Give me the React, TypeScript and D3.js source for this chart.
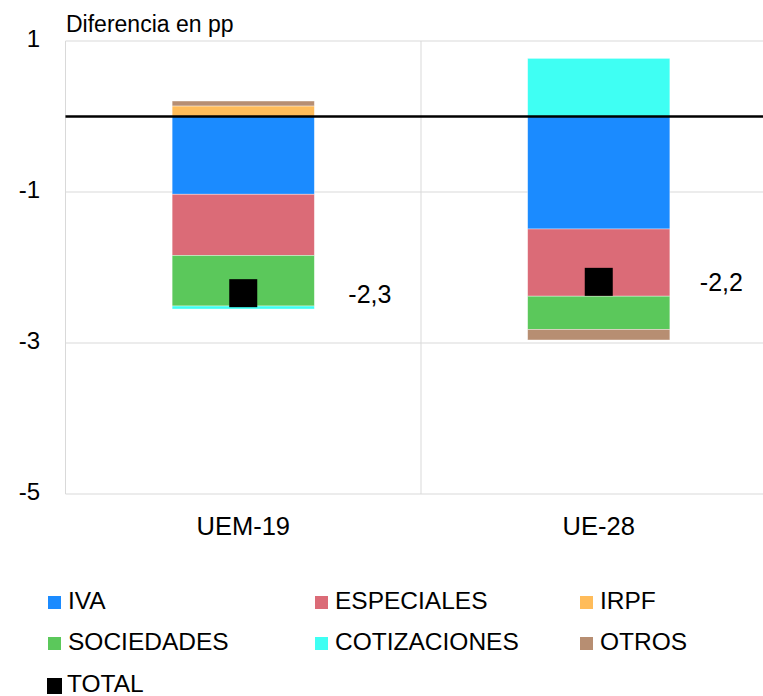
import React from "react";
import * as d3 from "d3";

const categories = ["UEM-19", "UE-28"];
const seriesNames = ["IVA", "ESPECIALES", "IRPF", "SOCIEDADES", "COTIZACIONES", "OTROS"];
const ivaValues = [-1.03, -1.49];
const especialesValues = [-0.81, -0.89];
const irpfValues = [0.14, 0];
const sociedadesValues = [-0.67, -0.44];
const cotizacionesValues = [-0.04, 0.77];
const otrosValues = [0.065, -0.14];
const totalValues = [-2.34, -2.19];
const totalLabels = ["-2,3", "-2,2"];
const yTicks = [1, -1, -3, -5];
const colors = ["#1b8bff", "#db6b77", "#ffbc5a", "#5bc85b", "#3ffff3", "#b78e72"];

const W = 763;
const H = 696;
const left = 65.5;
const right = 776.5;
const top = 41;
const bottom = 494;
const FONT = "'Liberation Sans', Arial, Helvetica, sans-serif";

export default function App() {
  const rows = categories.map((c, i) => ({
    cat: c,
    IVA: ivaValues[i],
    ESPECIALES: especialesValues[i],
    IRPF: irpfValues[i],
    SOCIEDADES: sociedadesValues[i],
    COTIZACIONES: cotizacionesValues[i],
    OTROS: otrosValues[i],
  }));
  const stacked = d3
    .stack<any>()
    .keys(seriesNames)
    .offset(d3.stackOffsetDiverging)(rows);

  const x = d3.scaleBand().domain(categories).range([left, right]).padding(0);
  const y = d3.scaleLinear().domain([1, -5]).range([top, bottom]);
  const bw = x.bandwidth() * 0.4;
  const markerSize = 28;

  const legendItems = seriesNames.map((n, i) => ({
    name: n,
    color: colors[i],
    col: i % 3,
    row: Math.floor(i / 3),
  }));
  const legendColX = [48, 315, 580];
  const legendRowY = [603, 644, 686];

  return (
    <svg
      width={W}
      height={H}
      style={{ position: "absolute", left: 0, top: 0, background: "#fff" }}
      fontFamily={FONT}
    >
      {yTicks.map((t) => (
        <line key={"g" + t} x1={left} x2={W} y1={y(t)} y2={y(t)} stroke="#d9d9d9" strokeWidth={1} />
      ))}
      {categories.map((c) => (
        <line key={"v" + c} x1={x(c)!} x2={x(c)!} y1={top} y2={bottom} stroke="#d9d9d9" strokeWidth={1} />
      ))}
      {stacked.map((s, si) =>
        s.map((d, i) => {
          const y0 = y(Math.max(d[0], d[1]));
          const y1 = y(Math.min(d[0], d[1]));
          if (y1 - y0 <= 0) return null;
          const cx = x(categories[i])! + x.bandwidth() / 2;
          return (
            <rect
              key={s.key + i}
              x={cx - bw / 2}
              y={y0}
              width={bw}
              height={y1 - y0}
              fill={colors[si]}
              stroke="rgba(255,255,255,0.5)"
              strokeWidth={0.75}
            />
          );
        })
      )}
      <line x1={left} x2={W} y1={y(0)} y2={y(0)} stroke="#000" strokeWidth={2.5} />
      {categories.map((c, i) => {
        const cx = x(c)! + x.bandwidth() / 2;
        return (
          <g key={"t" + c}>
            <rect
              x={cx - markerSize / 2}
              y={y(totalValues[i]) - markerSize / 2}
              width={markerSize}
              height={markerSize}
              fill="#000"
            />
            <text
              x={cx + bw / 2 + (i === 0 ? 34 : 30)}
              y={y(totalValues[i]) + 3}
              fontSize={25}
              dominantBaseline="middle"
              fill="#000"
            >
              {totalLabels[i]}
            </text>
          </g>
        );
      })}
      {yTicks.map((t) => (
        <text
          key={"yl" + t}
          x={40}
          y={y(t)}
          textAnchor="end"
          dominantBaseline="middle"
          fontSize={24}
          fill="#000"
        >
          {t}
        </text>
      ))}
      <text x={66} y={32} fontSize={23} fill="#000">
        Diferencia en pp
      </text>
      {categories.map((c) => (
        <text
          key={"cl" + c}
          x={x(c)! + x.bandwidth() / 2}
          y={528}
          textAnchor="middle"
          dominantBaseline="middle"
          fontSize={25.5}
          fill="#000"
        >
          {c}
        </text>
      ))}
      {legendItems.map((l) => (
        <g key={"lg" + l.name}>
          <rect x={legendColX[l.col]} y={legendRowY[l.row] - 7} width={13} height={13} fill={l.color} />
          <text
            x={legendColX[l.col] + 20}
            y={legendRowY[l.row]}
            dominantBaseline="middle"
            fontSize={24.5}
            fill="#000"
          >
            {l.name}
          </text>
        </g>
      ))}
      <rect x={47} y={legendRowY[2] - 8} width={15} height={16} fill="#000" />
      <text x={67} y={legendRowY[2]} dominantBaseline="middle" fontSize={24.5} fill="#000">
        TOTAL
      </text>
    </svg>
  );
}
